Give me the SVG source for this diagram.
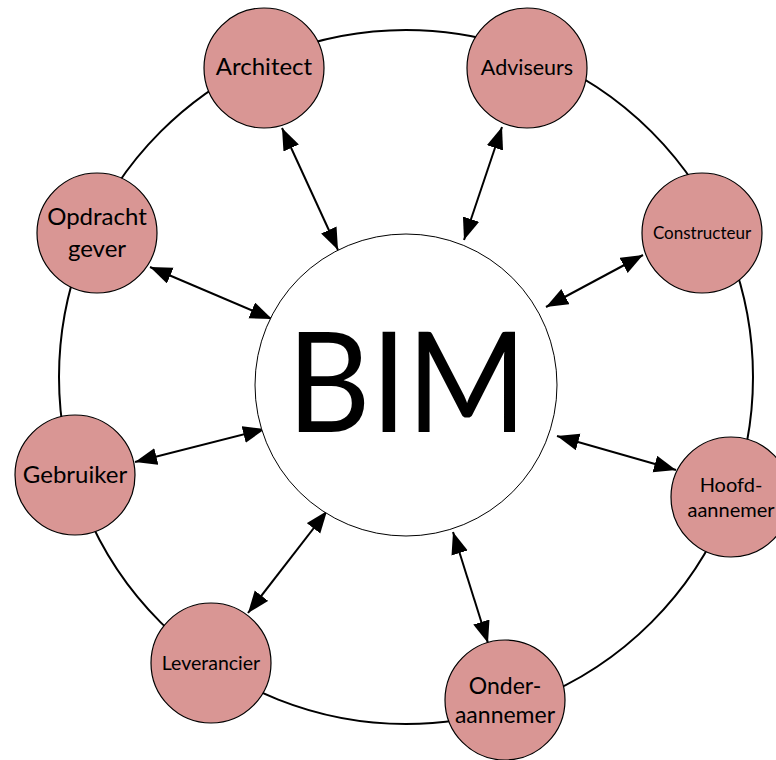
<svg xmlns="http://www.w3.org/2000/svg" width="776" height="760" viewBox="0 0 776 760">
  <defs>
    <style>
      .ring { fill: none; stroke: #000; stroke-width: 2; }
      .hub { fill: #fff; stroke: #000; stroke-width: 1; }
      .node { fill: #D99694; stroke: #000; stroke-width: 1.2; }
      .lbl { font-family: Lato, "Open Sans", "Liberation Sans", sans-serif; fill: #000; text-anchor: middle; }
      .conn { stroke: #000; stroke-width: 2; fill: none; marker-start: url(#ah); marker-end: url(#ah); }
    </style>
    <marker id="ah" markerUnits="userSpaceOnUse" markerWidth="24" markerHeight="18" refX="22" refY="8.5" orient="auto-start-reverse">
      <path d="M0,0 L22,8.5 L0,17 z" fill="#000"/>
    </marker>
  </defs>
  <rect width="776" height="760" fill="#fff"/>
  <circle class="ring" cx="406" cy="377" r="347"/>

  <g id="connectors">
    <line class="conn" x1="282" y1="128" x2="338" y2="250"/>
    <line class="conn" x1="502" y1="127" x2="464" y2="240"/>
    <line class="conn" x1="643" y1="255" x2="546" y2="307"/>
    <line class="conn" x1="676" y1="470" x2="557" y2="436"/>
    <line class="conn" x1="488" y1="643" x2="453" y2="532"/>
    <line class="conn" x1="248" y1="613" x2="327" y2="511"/>
    <line class="conn" x1="135" y1="462" x2="265" y2="429"/>
    <line class="conn" x1="150" y1="267" x2="272" y2="319"/>
  </g>

  <g id="bim">
    <circle class="hub" cx="406" cy="385" r="151"/>
    <text class="lbl" x="407" y="432" font-size="140" textLength="240" lengthAdjust="spacingAndGlyphs">BIM</text>
  </g>

  <g id="architect">
    <circle class="node" cx="264" cy="68" r="60"/>
    <text class="lbl" x="264" y="75" font-size="24">Architect</text>
  </g>
  <g id="adviseurs">
    <circle class="node" cx="527" cy="68" r="60"/>
    <text class="lbl" x="527" y="75" font-size="21.5">Adviseurs</text>
  </g>
  <g id="constructeur">
    <circle class="node" cx="702" cy="233" r="60"/>
    <text class="lbl" x="702" y="239" font-size="17">Constructeur</text>
  </g>
  <g id="opdrachtgever">
    <circle class="node" cx="97" cy="233" r="60"/>
    <text class="lbl" x="97" y="225" font-size="24">Opdracht</text>
    <text class="lbl" x="97" y="257" font-size="24">gever</text>
  </g>
  <g id="gebruiker">
    <circle class="node" cx="75" cy="475" r="60"/>
    <text class="lbl" x="75" y="483" font-size="24">Gebruiker</text>
  </g>
  <g id="hoofdaannemer">
    <circle class="node" cx="731" cy="497" r="60"/>
    <text class="lbl" x="731" y="492" font-size="20">Hoofd-</text>
    <text class="lbl" x="731" y="517" font-size="20">aannemer</text>
  </g>
  <g id="leverancier">
    <circle class="node" cx="211" cy="663" r="60"/>
    <text class="lbl" x="211" y="670" font-size="19.5">Leverancier</text>
  </g>
  <g id="onderaannemer">
    <circle class="node" cx="505" cy="700" r="60"/>
    <text class="lbl" x="505" y="694" font-size="23">Onder-</text>
    <text class="lbl" x="505" y="723" font-size="23">aannemer</text>
  </g>
</svg>
